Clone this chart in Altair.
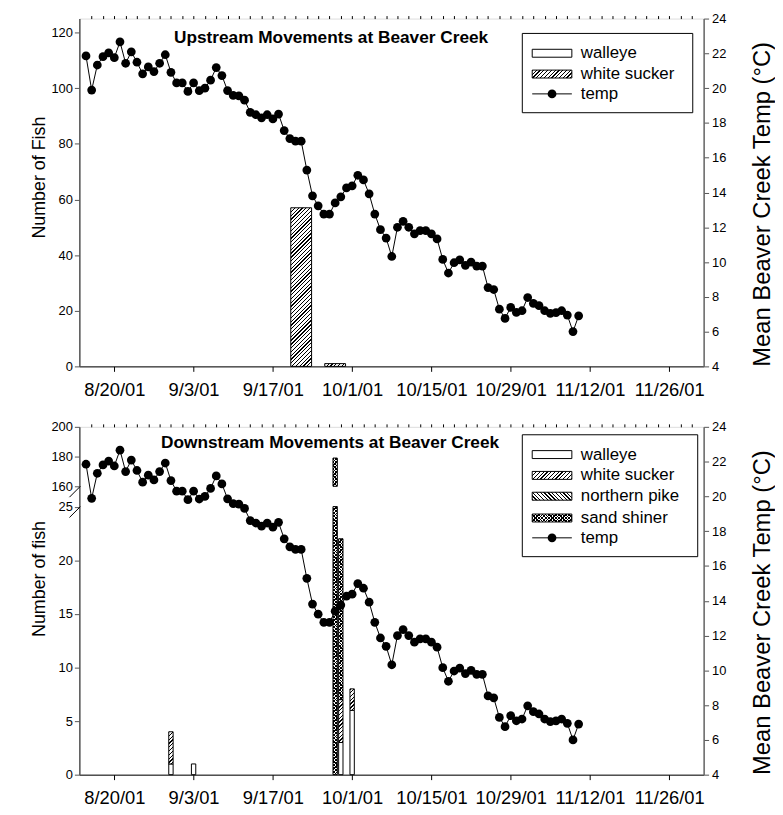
import math
import altair as alt
import pandas as pd

# ---------------- data ----------------
FIRST_DAY = "2001-08-15"   # first daily temperature reading

temp_c = [21.85, 19.89, 21.33, 21.81, 22.03, 21.75, 22.66, 21.43, 22.09, 21.49,
          20.82, 21.22, 20.95, 21.43, 21.92, 20.91, 20.30, 20.30, 19.81, 20.30,
          19.85, 20.00, 20.46, 21.18, 20.72, 19.86, 19.58, 19.56, 19.31, 18.61,
          18.47, 18.29, 18.47, 18.23, 18.51, 17.56, 17.10, 16.95, 16.95, 15.29,
          13.81, 13.23, 12.76, 12.76, 13.40, 13.75, 14.26, 14.38, 14.99, 14.72,
          13.92, 12.76, 11.86, 11.38, 10.32, 12.00, 12.34, 12.00, 11.62, 11.81,
          11.81, 11.62, 11.33, 10.15, 9.37, 9.96, 10.13, 9.81, 10.00, 9.77,
          9.77, 8.53, 8.42, 7.29, 6.76, 7.39, 7.10, 7.20, 7.96, 7.62,
          7.49, 7.20, 7.05, 7.09, 7.20, 6.95, 6.00, 6.91]

tick_dates = ["2001-08-20", "2001-09-03", "2001-09-17", "2001-10-01",
              "2001-10-15", "2001-10-29", "2001-11-12", "2001-11-26"]
tick_labels = ["8/20/01", "9/3/01", "9/17/01", "10/1/01",
               "10/15/01", "10/29/01", "11/12/01", "11/26/01"]

up_dates = ["2001-09-22", "2001-09-28"]
up_walleye = [0, 0]
up_white_sucker = [57, 1]

down_dates = ["2001-08-30", "2001-09-03", "2001-09-28", "2001-09-29", "2001-10-01"]
down_walleye = [1, 1, 0, 3, 6]
down_white_sucker = [3, 0, 0, 4, 2]
down_northern_pike = [0, 0, 0, 0, 0]
down_sand_shiner = [0, 0, 179, 15, 0]

up_species = ["walleye", "white sucker"]
down_species = ["walleye", "white sucker", "northern pike", "sand shiner"]

up_counts = {"walleye": up_walleye, "white sucker": up_white_sucker}
down_counts = {"walleye": down_walleye, "white sucker": down_white_sucker,
               "northern pike": down_northern_pike, "sand shiner": down_sand_shiner}

# ---------------- layout / style ----------------
W, H = 630, 351
X_DOMAIN = [-0.3, 108.2]
UP_MAX = 125
BREAK_DOMAIN = [0, 25, 160, 200]
BREAK_RANGE = [H, 80.5, 60, 0]
FONT = "Liberation Sans"
PATTERN = {"walleye": None, "white sucker": "/", "northern pike": "\\", "sand shiner": "x"}
CLEAR = "rgba(0,0,0,0)"


def day_of(s):
    return (pd.Timestamp(s) - pd.Timestamp(FIRST_DAY)).days


def hatch(w, h, kind, bg="#ffffff", fg="#000000", period=2.7, lw=0.9):
    w = max(float(w), 1.0)
    h = max(float(h), 1.0)
    k = (w + h) / (w * w + h * h)
    if kind == "/":
        x1, y1, x2, y2 = 0.0, 0.0, k * w, k * h
    else:
        x1, y1, x2, y2 = 0.0, 1.0, k * w, 1.0 - k * h
    L = w + h
    dt = period * math.sqrt(2) / L
    lt = lw * math.sqrt(2) / L
    stops = []
    t = 0.0
    while t < 1.0:
        a = round(t, 5)
        b = round(min(t + lt, 1.0), 5)
        c = round(min(t + dt, 1.0), 5)
        stops += [{"offset": a, "color": fg}, {"offset": b, "color": fg},
                  {"offset": b, "color": bg}, {"offset": c, "color": bg}]
        t += dt
    return {"gradient": "linear", "x1": round(x1, 5), "y1": round(y1, 5),
            "x2": round(x2, 5), "y2": round(y2, 5), "stops": stops}


def y_up(v):
    return H - v * H / UP_MAX


def y_break(v):
    for i in range(3):
        d0, d1 = BREAK_DOMAIN[i], BREAK_DOMAIN[i + 1]
        if v <= d1 or i == 2:
            r0, r1 = BREAK_RANGE[i], BREAK_RANGE[i + 1]
            return r0 + (v - d0) * (r1 - r0) / (d1 - d0)


def build_segments(dates, counts, species, yfun, bar_w, broken):
    base_recs, over_recs = [], []
    for i, d in enumerate(dates):
        base = 0
        for sp in species:
            n = counts[sp][i]
            if n <= 0:
                continue
            lo, hi = base, base + n
            base = hi
            if broken:
                pieces = []
                if lo < BREAK_DOMAIN[1]:
                    pieces.append((lo, min(hi, BREAK_DOMAIN[1])))
                if hi > BREAK_DOMAIN[2]:
                    pieces.append((max(lo, BREAK_DOMAIN[2]), hi))
            else:
                pieces = [(lo, hi)]
            for a, b in pieces:
                hpx = yfun(a) - yfun(b)
                pat = PATTERN[sp]
                if pat is None:
                    fill = "#ffffff"
                elif pat == "x":
                    fill = hatch(bar_w, hpx, "/", period=2.4)
                    over_recs.append({"day": day_of(d), "lo": a, "hi": b,
                                      "fill": hatch(bar_w, hpx, "\\", bg=CLEAR, period=2.4)})
                else:
                    fill = hatch(bar_w, hpx, pat)
                base_recs.append({"day": day_of(d), "lo": a, "hi": b, "fill": fill})
    return base_recs, over_recs


tick_days = [day_of(s) for s in tick_dates]
minor_days = list(range(1, 108, 2))
label_expr = "[" + ",".join("'%s'" % s for s in tick_labels) + "][indexof([" + \
    ",".join(str(v) for v in tick_days) + "], datum.value)]"

xscale = alt.Scale(domain=X_DOMAIN, nice=False, zero=False)
major_axis = alt.Axis(values=tick_days, labelExpr=label_expr, tickSize=5, labelFontSize=18.5,
                      labelPadding=9, domainColor="black", domainWidth=1, tickColor="black",
                      title=None, grid=False, labelOverlap=False, labelFlush=False)
minor_axis = alt.Axis(values=minor_days, labels=False, tickSize=3, domain=False,
                      tickColor="black", title=None, grid=False)

temp_df = pd.DataFrame({
    "day": [day_of(d) for d in pd.date_range(FIRST_DAY, periods=len(temp_c))],
    "temp": temp_c,
})
temp_scale = alt.Scale(domain=[4, 24], nice=False, zero=False)


def right_axis():
    return alt.Axis(orient="right", values=list(range(4, 25, 2)), tickSize=5, labelFontSize=13,
                    labelPadding=3, domainColor="#666", domainWidth=1.5, tickColor="#555",
                    title="Mean Beaver Creek Temp (°C)", titleFontSize=24, titleFontWeight="normal",
                    titleAngle=270, titleX=59, titleY=187, titleAlign="center",
                    titleBaseline="middle", grid=False, labelOverlap=False)


def single(d=None):
    return alt.Data(values=[d or {"k": 0}])


def legend_layers(entries, box, rows, text_x=506, sw_x=(457, 497), sw_h=8):
    layers = [alt.Chart(single()).mark_rect(fill="white", stroke="black", strokeWidth=1).encode(
        x=alt.value(box[0]), x2=alt.value(box[1]), y=alt.value(box[2]), y2=alt.value(box[3]))]
    for name, yy in zip(entries, rows):
        w = sw_x[1] - sw_x[0]
        if name == "temp":
            layers.append(alt.Chart(single()).mark_rule(color="black", strokeWidth=1).encode(
                x=alt.value(sw_x[0]), x2=alt.value(sw_x[1]), y=alt.value(yy)))
            layers.append(alt.Chart(single()).mark_circle(color="black", opacity=1, size=78).encode(
                x=alt.value((sw_x[0] + sw_x[1]) / 2), y=alt.value(yy)))
        else:
            pat = PATTERN[name]
            if pat is None:
                fills = ["#ffffff"]
            elif pat == "x":
                fills = [hatch(w, sw_h, "/", period=2.4), hatch(w, sw_h, "\\", bg=CLEAR, period=2.4)]
            else:
                fills = [hatch(w, sw_h, pat)]
            for j, f in enumerate(fills):
                layers.append(alt.Chart(single()).mark_rect(
                    stroke="black", strokeWidth=1 if j == 0 else 0).encode(
                    x=alt.value(sw_x[0]), x2=alt.value(sw_x[1]),
                    y=alt.value(yy - sw_h / 2), y2=alt.value(yy + sw_h / 2),
                    fill=alt.value(f)))
        layers.append(alt.Chart(single({"label": name})).mark_text(
            align="left", baseline="middle", fontSize=17, font=FONT, color="black").encode(
            x=alt.value(text_x), y=alt.value(yy), text="label:N"))
    return layers


def panel(dates, counts, species, yfun, bar_w, broken, yscale, yaxis, title, title_xy,
          legend_entries, legend_box, legend_rows, extra=None):
    base_recs, over_recs = build_segments(dates, counts, species, yfun, bar_w, broken)
    layers = [alt.Chart(alt.Data(values=base_recs)).mark_bar(
        width=bar_w, stroke="black", strokeWidth=1).encode(
        x=alt.X("day:Q", scale=xscale, axis=major_axis),
        y=alt.Y("lo:Q", scale=yscale, axis=yaxis),
        y2="hi:Q",
        fill=alt.Fill("fill:N", scale=None))]
    if over_recs:
        layers.append(alt.Chart(alt.Data(values=over_recs)).mark_bar(
            width=bar_w, strokeWidth=0).encode(
            x=alt.X("day:Q", scale=xscale, axis=None),
            y=alt.Y("lo:Q", scale=yscale, axis=None),
            y2="hi:Q",
            fill=alt.Fill("fill:N", scale=None)))
    layers.append(alt.Chart(temp_df).mark_line(color="black", strokeWidth=1).encode(
        x=alt.X("day:Q", scale=xscale, axis=minor_axis),
        y=alt.Y("temp:Q", scale=temp_scale, axis=right_axis())))
    layers.append(alt.Chart(temp_df).mark_circle(color="black", opacity=1, size=78).encode(
        x=alt.X("day:Q", scale=xscale, axis=None),
        y=alt.Y("temp:Q", scale=temp_scale, axis=None)))
    layers += legend_layers(legend_entries, legend_box, legend_rows)
    layers.append(alt.Chart(single({"t": title})).mark_text(
        fontSize=17.4, fontWeight="bold", font=FONT, color="black", baseline="middle").encode(
        x=alt.value(title_xy[0]), y=alt.value(title_xy[1]), text="t:N"))
    if extra:
        layers += extra
    return alt.layer(*layers).properties(width=W, height=H).resolve_scale(
        y="independent").resolve_axis(x="independent", y="independent")


up_axis = alt.Axis(values=list(range(0, 121, 20)), tickSize=5, labelFontSize=13, labelPadding=2,
                   domainColor="#555", domainWidth=1.5, tickColor="#555", title="Number of Fish",
                   titleFontSize=18, titleFontWeight="normal", titleX=-40, titleY=160,
                   titleAngle=270, titleAlign="center", titleBaseline="middle", grid=False,
                   labelOverlap=False)
down_axis = alt.Axis(values=[0, 5, 10, 15, 20, 25, 160, 180, 200], tickSize=5, labelFontSize=13,
                     labelPadding=2, domainColor="#555", domainWidth=1.5, tickColor="#555",
                     title="Number of fish", titleFontSize=18, titleFontWeight="normal",
                     titleX=-40, titleY=153, titleAngle=270, titleAlign="center",
                     titleBaseline="middle", grid=False, labelOverlap=False)

break_marks = [
    alt.Chart(single()).mark_rule(color="black", strokeWidth=1).encode(
        x=alt.value(-10), x2=alt.value(1), y=alt.value(71), y2=alt.value(60)),
    alt.Chart(single()).mark_rule(color="black", strokeWidth=1).encode(
        x=alt.value(-10), x2=alt.value(1), y=alt.value(91.5), y2=alt.value(80.5)),
]

top = panel(up_dates, up_counts, up_species, y_up, 21, False,
            alt.Scale(domain=[0, UP_MAX], nice=False, zero=True), up_axis,
            "Upstream Movements at Beaver Creek", (254, 20),
            ["walleye", "white sucker", "temp"], (447, 619, 15, 95), [35, 56, 76])

bottom = panel(down_dates, down_counts, down_species, y_break, 4.4, True,
               alt.Scale(domain=BREAK_DOMAIN, range=BREAK_RANGE, nice=False, zero=False),
               down_axis, "Downstream Movements at Beaver Creek", (253, 16),
               ["walleye", "white sucker", "northern pike", "sand shiner", "temp"],
               (447, 624, 8, 131), [28, 49, 70, 92, 112], extra=break_marks)

chart = alt.vconcat(top, bottom, spacing=61, bounds="flush").properties(
    padding={"left": 22, "top": 0, "right": 0, "bottom": 0}
).configure_view(stroke="#555", strokeWidth=1.5).configure_axis(
    labelFont=FONT, titleFont=FONT, labelColor="black", titleColor="black"
).configure(background="white")

chart.save("out.html", embed_options={"renderer": "svg", "actions": False})
